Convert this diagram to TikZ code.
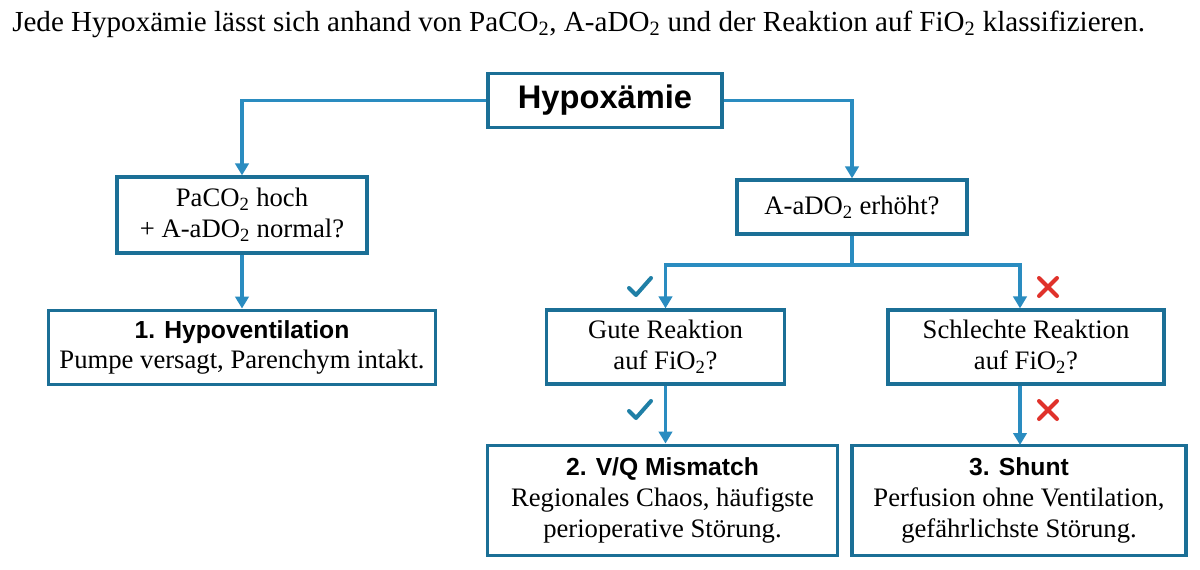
\documentclass[tikz,border=0pt]{standalone}
\usepackage{fontspec}
\setmainfont{Liberation Serif}
\newfontfamily\hd{Liberation Sans}
\usetikzlibrary{arrows.meta,calc}
\definecolor{bx}{HTML}{1B6F96}
\definecolor{ln}{HTML}{2A8CC0}
\definecolor{ck}{HTML}{1F7FA6}
\definecolor{xr}{HTML}{E0322B}
\tikzset{
 box/.style={draw=bx,line width=2.4pt,fill=white,align=center,inner sep=0pt,font=\fontsize{20}{23}\selectfont},
 con/.style={draw=ln,line width=2.4pt,-{Triangle[length=9pt,width=10pt]}},
 seg/.style={draw=ln,line width=2.4pt}
}
\newcommand{\chk}[1]{\draw[ck,line width=3pt,line cap=round,line join=round] ($#1+(-11,1)$) -- ($#1+(-4,8)$) -- ($#1+(11,-9)$);}
\newcommand{\crs}[1]{\draw[xr,line width=3pt,line cap=round] ($#1+(-9,-9)$) -- ($#1+(9,9)$) ($#1+(-9,9)$) -- ($#1+(9,-9)$);}
\begin{document}
\begin{tikzpicture}[x=0.75pt,y=-0.75pt]
\useasboundingbox[fill=white] (0,0) rectangle (1200,569);
\node[anchor=west,font=\fontsize{21.8}{25}\selectfont,inner sep=0pt] (t) at (12,24) {Jede Hypoxämie lässt sich anhand von PaCO\textsubscript{2}, A-aDO\textsubscript{2} und der Reaktion auf FiO\textsubscript{2} klassifizieren.};
\node[box,minimum width=175.5pt,minimum height=41pt,font=\hd\bfseries\fontsize{24.5}{28}\selectfont] (h) at (605,100.5) {Hypoxämie};
\node[box,minimum width=187.5pt,minimum height=57pt] (l) at (242,215) {PaCO\textsubscript{2} hoch\\+ A-aDO\textsubscript{2} normal?};
\node[box,minimum width=172.5pt,minimum height=40.5pt] (a) at (852,207) {A-aDO\textsubscript{2} erhöht?};
\node[box,minimum width=290pt,minimum height=56pt] (hv) at (242,347.5) {{\hd\bfseries\fontsize{18.5}{23}\selectfont 1. Hypoventilation}\\Pumpe versagt, Parenchym intakt.};
\node[box,minimum width=178pt,minimum height=55.5pt] (g) at (665.5,347) {Gute Reaktion\\auf FiO\textsubscript{2}?};
\node[box,minimum width=207pt,minimum height=55.5pt] (s) at (1026,347) {Schlechte Reaktion\\auf FiO\textsubscript{2}?};
\node[box,minimum width=263pt,minimum height=83pt] (v) at (662.5,500.5) {{\hd\bfseries\fontsize{18.5}{23}\selectfont 2. V/Q Mismatch}\\Regionales Chaos, häufigste\\perioperative Störung.};
\node[box,minimum width=250.5pt,minimum height=83pt] (sh) at (1019,500.5) {{\hd\bfseries\fontsize{18.5}{23}\selectfont 3. Shunt}\\Perfusion ohne Ventilation,\\gefährlichste Störung.};
\draw[con] (h.west) -| (l.north);
\draw[con] (h.east) -| (a.north);
\draw[con] (l.south) -- (hv.north);
\coordinate (j) at (852,265);
\draw[seg] (a.south) -- (j);
\draw[con] (j) -| (g.north);
\draw[con] (j) -| (s.north -| 1020,0);
\draw[con] (g.south) -- (g.south |- v.north);
\draw[con] (s.south -| 1020,0) -- (1020,445);
\chk{(640,287)}
\chk{(640,410)}
\crs{(1048,287)}
\crs{(1048,410)}
\end{tikzpicture}
\end{document}
